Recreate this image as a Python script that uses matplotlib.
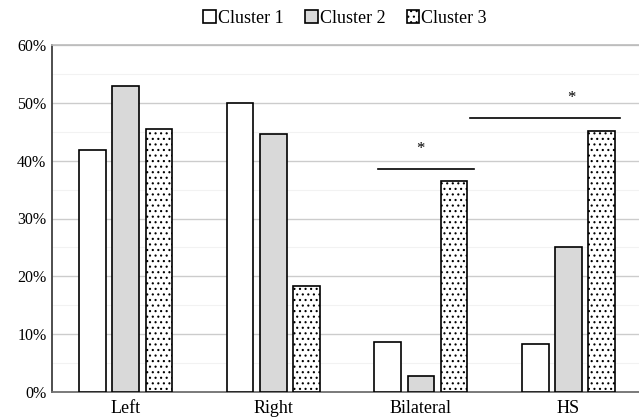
import numpy as np
import matplotlib.pyplot as plt
import matplotlib as mpl

plt.rcParams['font.family'] = ['Liberation Serif', 'DejaVu Serif']
mpl.rcParams['hatch.linewidth'] = 0.8

categories = ['Left', 'Right', 'Bilateral', 'HS']
series_names = ['Cluster 1', 'Cluster 2', 'Cluster 3']
cluster1 = [41.9, 49.9, 8.6, 8.3]
cluster2 = [52.9, 44.6, 2.8, 25.1]
cluster3 = [45.4, 18.3, 36.5, 45.2]
yticks = [0, 10, 20, 30, 40, 50, 60]

# significance brackets: (x start, x end, height)
sig_lines = [(1.71, 2.36, 38.6), (2.33, 3.35, 47.4)]
sig_stars = [(2.0, 40.6), (3.02, 49.4)]

if __name__ == '__main__':
    fig = plt.figure(figsize=(6.39, 4.18), dpi=100)
    ax = fig.add_axes([52 / 639, 1 - 392 / 418, 1 - 52 / 639 + 0.005, (392 - 45) / 418])

    x = np.arange(len(categories))
    w = 0.18
    step = 0.225
    ax.bar(x - step, cluster1, w, color='white', edgecolor='black', lw=1.2,
           label=series_names[0], zorder=3)
    ax.bar(x, cluster2, w, color='#d9d9d9', edgecolor='black', lw=1.2,
           label=series_names[1], zorder=3)
    ax.bar(x + step, cluster3, w, color='white', edgecolor='black', lw=1.2,
           hatch='...', label=series_names[2], zorder=3)

    for x0, x1, h in sig_lines:
        ax.plot([x0, x1], [h, h], color='black', lw=1.2, zorder=4)
    for sx, sy in sig_stars:
        ax.text(sx, sy, '*', ha='center', va='bottom', fontsize=12)

    ax.set_xlim(-0.5, 3.5)
    ax.set_ylim(0, 60)
    ax.set_yticks(yticks)
    ax.set_yticklabels([f'{t}%' for t in yticks], fontsize=11.5)
    ax.set_yticks(np.arange(5, 60, 10), minor=True)
    ax.set_xticks(x)
    ax.set_xticklabels(categories, fontsize=13)
    ax.tick_params(axis='both', which='both', length=0, pad=4)
    ax.tick_params(axis='x', pad=6)

    ax.yaxis.grid(True, color='#cccccc', lw=1.0, zorder=0)
    ax.yaxis.grid(True, which='minor', color='#f2f2f2', lw=0.8, zorder=0)
    ax.set_axisbelow(True)
    ax.spines['right'].set_visible(False)
    ax.spines['top'].set_color('#bbbbbb')
    ax.spines['top'].set_linewidth(1.2)
    ax.spines['left'].set_color('#404040')
    ax.spines['left'].set_linewidth(1.3)
    ax.spines['bottom'].set_color('#707070')
    ax.spines['bottom'].set_linewidth(1.3)

    fig.legend(loc='upper center', bbox_to_anchor=(0.54, 1.015), ncol=3,
               frameon=False, fontsize=13, handlelength=0.7, handleheight=0.7,
               handletextpad=0.1, columnspacing=1.2)

    fig.savefig('out.png', dpi=100)
